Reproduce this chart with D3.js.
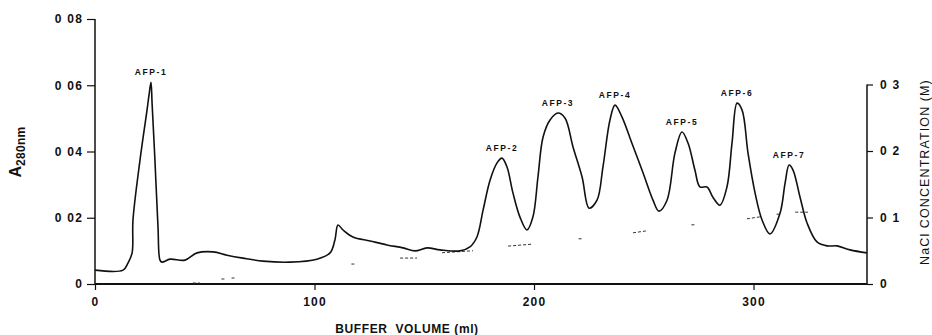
<!DOCTYPE html>
<html>
<head>
<meta charset="utf-8">
<script src="https://cdn.jsdelivr.net/npm/d3@7"></script>
<style>
  body { margin: 0; background: #fff; }
  svg { display: block; font-family: "Liberation Sans", Arial, Helvetica, sans-serif; }
</style>
</head>
<body>
<script>
// absorbance trace, [buffer volume (ml), A280]
const absorbance = [
  [0, 0.0042], [12.8, 0.0042], [15.0, 0.0063], [16.9, 0.0094], [17.3, 0.0193],
  [20.5, 0.0374], [23.7, 0.0525], [24.6, 0.0570], [25.5, 0.0609], [26.0, 0.0546],
  [27.3, 0.0374], [28.7, 0.0172], [29.6, 0.0072], [30.5, 0.0066], [34.2, 0.0075],
  [41.0, 0.0072], [46.5, 0.0094], [53.8, 0.0097], [60.1, 0.0087], [67.4, 0.0078],
  [76.5, 0.0069], [88.8, 0.0066], [101.1, 0.0075], [107.1, 0.0094], [109.3, 0.0133],
  [110.7, 0.0178], [113.0, 0.0163], [117.5, 0.0142], [125.3, 0.0130], [133.0, 0.0118],
  [140.3, 0.0109], [145.8, 0.0100], [151.3, 0.0109], [157.2, 0.0103], [166.3, 0.0100],
  [170.8, 0.0112], [174.0, 0.0142], [176.8, 0.0223], [180.0, 0.0314], [183.1, 0.0365],
  [185.4, 0.0380], [187.7, 0.0353], [190.4, 0.0275], [193.6, 0.0202], [196.8, 0.0163],
  [199.5, 0.0202], [201.8, 0.0323], [204.1, 0.0443], [207.3, 0.0495], [210.9, 0.0516],
  [214.1, 0.0501], [217.8, 0.0413], [221.9, 0.0323], [225.1, 0.0229], [228.7, 0.0253],
  [231.4, 0.0353], [234.6, 0.0495], [236.9, 0.0540], [240.1, 0.0504], [244.6, 0.0425],
  [249.7, 0.0335], [254.2, 0.0253], [256.9, 0.0220], [260.6, 0.0253], [264.2, 0.0395],
  [267.4, 0.0459], [270.2, 0.0425], [273.3, 0.0344], [275.6, 0.0293], [278.8, 0.0293],
  [281.5, 0.0262], [284.7, 0.0238], [287.9, 0.0293], [290.2, 0.0425], [292.5, 0.0546],
  [294.8, 0.0525], [297.5, 0.0395], [300.7, 0.0275], [303.9, 0.0193], [307.5, 0.0151],
  [312.1, 0.0214], [314.4, 0.0305], [316.2, 0.0359], [318.0, 0.0344], [321.2, 0.0262],
  [324.4, 0.0184], [328.9, 0.0127], [333.5, 0.0115], [338.0, 0.0115], [344.0, 0.0103],
  [351.7, 0.0094]
];

// visible bits of the NaCl gradient trace: [ml start, ml end, M start, M end]
const naclDashes = [
  [44.6, 47.8, 0.0015, 0.0015], [57.6, 59.0, 0.0075, 0.0075], [62.2, 63.6, 0.009, 0.009],
  [116.8, 118.2, 0.030, 0.030], [139.0, 146.7, 0.039, 0.039], [158.1, 172.2, 0.047, 0.050],
  [188.2, 199.5, 0.057, 0.060], [220.3, 221.7, 0.068, 0.068], [245.1, 251.5, 0.077, 0.080],
  [271.7, 273.1, 0.089, 0.089], [297.0, 303.0, 0.098, 0.101], [310.5, 311.9, 0.105, 0.105],
  [319.0, 324.8, 0.108, 0.108]
];

const peakNames = ["AFP-1", "AFP-2", "AFP-3", "AFP-4", "AFP-5", "AFP-6", "AFP-7"];
const peakVolumes = [25.5, 185.4, 210.9, 236.9, 267.4, 292.5, 316.2];
const peakHeights = [0.0609, 0.0380, 0.0516, 0.0540, 0.0459, 0.0546, 0.0359];

const xTicks = [0, 100, 200, 300];
const aTicks = [0, 0.02, 0.04, 0.06, 0.08];
const aTickLabels = ["0", "0 02", "0 04", "0 06", "0 08"];
const naclTicks = [0, 0.1, 0.2, 0.3];
const naclTickLabels = ["0", "0 1", "0 2", "0 3"];

const W = 932, H = 335;
const plotLeft = 95, plotRight = 867, plotBottom = 284, plotTop = 19;

const x = d3.scaleLinear().domain([0, 351.7]).range([plotLeft, plotRight]);
const yA = d3.scaleLinear().domain([0, 0.08]).range([plotBottom, plotTop]);
const yN = d3.scaleLinear().domain([0, 0.3]).range([plotBottom, 84.5]);

const svg = d3.select("body").append("svg").attr("width", W).attr("height", H);

// left axis
const axL = svg.append("g")
  .attr("transform", `translate(${plotLeft},0)`)
  .call(d3.axisLeft(yA).tickValues(aTicks).tickSize(8).tickPadding(4)
    .tickFormat((d, i) => aTickLabels[i]));

// right axis
const axR = svg.append("g")
  .attr("transform", `translate(${plotRight},0)`)
  .call(d3.axisRight(yN).tickValues(naclTicks).tickSize(6).tickPadding(7)
    .tickFormat((d, i) => naclTickLabels[i]));

// bottom axis
const axB = svg.append("g")
  .attr("transform", `translate(0,${plotBottom})`)
  .call(d3.axisBottom(x).tickValues(xTicks).tickSize(6).tickPadding(7));

[axL, axR, axB].forEach((g) => {
  g.select(".domain").attr("stroke", "#111").attr("stroke-width", 1.5);
  g.selectAll(".tick line").attr("stroke", "#111").attr("stroke-width", 1.2);
  g.selectAll(".tick text")
    .attr("fill", "#111")
    .attr("font-size", 12)
    .attr("font-weight", "bold")
    .attr("letter-spacing", 1.2)
    .attr("font-family", "'Liberation Sans', Arial, sans-serif");
});
axB.select(".domain").attr("d", `M${plotLeft},0H${plotRight}`).attr("stroke-width", 2);
axL.select(".domain").attr("d", `M0,${yA(0.08)}V${plotBottom}`);
axR.select(".domain").attr("d", `M0,${yN(0.3)}V${plotBottom}`);

// NaCl gradient (faint dashed pieces)
svg.append("g")
  .selectAll("line")
  .data(naclDashes)
  .join("line")
  .attr("x1", (d) => x(d[0]))
  .attr("x2", (d) => x(d[1]))
  .attr("y1", (d) => yN(d[2]))
  .attr("y2", (d) => yN(d[3]))
  .attr("stroke", "#333")
  .attr("stroke-width", 1)
  .attr("stroke-dasharray", "3,2");

// absorbance curve
const line = d3.line()
  .x((d) => x(d[0]))
  .y((d) => yA(d[1]))
  .curve(d3.curveCatmullRom.alpha(0.5));

svg.append("path")
  .datum(absorbance)
  .attr("fill", "none")
  .attr("stroke", "#111")
  .attr("stroke-width", 1.6)
  .attr("stroke-linejoin", "round")
  .attr("d", line);

// peak labels
svg.append("g")
  .selectAll("text")
  .data(peakNames)
  .join("text")
  .attr("x", (d, i) => x(peakVolumes[i]))
  .attr("y", (d, i) => yA(peakHeights[i]) - 7)
  .attr("text-anchor", "middle")
  .attr("font-size", 8.5)
  .attr("font-weight", "bold")
  .attr("letter-spacing", 1.6)
  .attr("fill", "#111")
  .text((d) => d);

// axis titles
const aTitle = svg.append("text")
  .attr("transform", "translate(21,152) rotate(-90)")
  .attr("text-anchor", "middle")
  .attr("fill", "#111");
aTitle.append("tspan").attr("font-size", 16).attr("font-weight", "bold").text("A");
aTitle.append("tspan").attr("font-size", 12).attr("font-weight", "bold").attr("dy", 4).attr("letter-spacing", 0.3).text("280nm");

svg.append("text")
  .attr("transform", "translate(929,172) rotate(-90)")
  .attr("text-anchor", "middle")
  .attr("font-size", 12.5)
  .attr("letter-spacing", 1.1)
  .attr("fill", "#111")
  .text("NaCl CONCENTRATION (M)");

svg.append("text")
  .attr("x", 407)
  .attr("y", 333)
  .attr("text-anchor", "middle")
  .attr("font-size", 12)
  .attr("font-weight", "bold")
  .attr("letter-spacing", 0.6)
  .attr("fill", "#111")
  .style("white-space", "pre")
  .text("BUFFER  VOLUME (ml)");
</script>
</body>
</html>
